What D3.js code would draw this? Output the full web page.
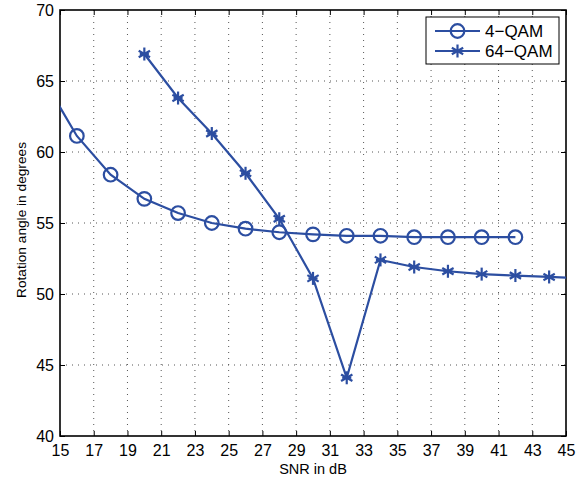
<!DOCTYPE html>
<html><head><meta charset="utf-8">
<script src="https://cdn.jsdelivr.net/npm/d3@7"></script>
<style>body{margin:0;background:#fff}</style>
</head><body>
<svg id="c" width="587" height="478"></svg>
<script>
const snr4 = [14,16,18,20,22,24,26,28,30,32,34,36,38,40,42];
const qam4 = [65.17,61.13,58.4,56.7,55.7,55.0,54.6,54.35,54.2,54.1,54.1,54.0,54.0,54.0,54.0];
const snr64 = [20,22,24,26,28,30,32,34,36,38,40,42,44,46];
const qam64 = [66.9,63.8,61.3,58.5,55.3,51.1,44.1,52.4,51.9,51.6,51.4,51.3,51.2,51.1];
const xTicks = [15,17,19,21,23,25,27,29,31,33,35,37,39,41,43,45];
const yTicks = [40,45,50,55,60,65,70];
const seriesNames = ["4\u2212QAM","64\u2212QAM"];

const svg = d3.select("#c");
const L=60,R=566,T=10,B=436;
const x = d3.scaleLinear().domain([15,45]).range([L,R]);
const y = d3.scaleLinear().domain([40,70]).range([B,T]);
const col = "#2c4ea1";
const font = "Liberation Sans, Arial, Helvetica, sans-serif";

// grid
const g = svg.append("g");
g.selectAll("line.gx").data(xTicks.slice(1,-1)).enter().append("line")
 .attr("x1",d=>x(d)).attr("x2",d=>x(d)).attr("y1",T).attr("y2",B)
 .attr("stroke","#555").attr("stroke-width",1).attr("stroke-dasharray","1,5");
g.selectAll("line.gy").data(yTicks.slice(1,-1)).enter().append("line")
 .attr("y1",d=>y(d)).attr("y2",d=>y(d)).attr("x1",L).attr("x2",R)
 .attr("stroke","#555").attr("stroke-width",1).attr("stroke-dasharray","1,5");

// axes
const ax = d3.axisBottom(x).tickValues(xTicks).tickSize(-5).tickPadding(9);
const axB = svg.append("g").attr("transform",`translate(0,${B})`).call(ax);
const axT = svg.append("g").attr("transform",`translate(0,${T})`).call(d3.axisTop(x).tickValues(xTicks).tickSize(-5).tickFormat(""));
const ay = d3.axisLeft(y).tickValues(yTicks).tickSize(-5).tickPadding(6);
const axL = svg.append("g").attr("transform",`translate(${L},0)`).call(ay);
const axR = svg.append("g").attr("transform",`translate(${R},0)`).call(d3.axisRight(y).tickValues(yTicks).tickSize(-5).tickFormat(""));
[axB,axT,axL,axR].forEach(a=>{
  a.select(".domain").remove();
  a.selectAll(".tick line").attr("stroke","#000").attr("stroke-width",1);
  a.selectAll("text").attr("font-family",font).attr("font-size",16).attr("fill","#000");
});
svg.append("rect").attr("x",L).attr("y",T).attr("width",R-L).attr("height",B-T)
 .attr("fill","none").attr("stroke","#000").attr("stroke-width",1.6);

// clip
svg.append("clipPath").attr("id","clip").append("rect").attr("x",L).attr("y",T).attr("width",R-L).attr("height",B-T);
const plot = svg.append("g").attr("clip-path","url(#clip)");
const line = d3.line().x(d=>x(d[0])).y(d=>y(d[1]));
const d4 = snr4.map((s,i)=>[s,qam4[i]]);
const d64 = snr64.map((s,i)=>[s,qam64[i]]);
plot.append("path").datum(d4).attr("d",line).attr("fill","none").attr("stroke",col).attr("stroke-width",2.2);
plot.append("path").datum(d64).attr("d",line).attr("fill","none").attr("stroke",col).attr("stroke-width",2.2);

function circle(sel,cx,cy){ sel.append("circle").attr("cx",cx).attr("cy",cy).attr("r",6.8).attr("fill","none").attr("stroke",col).attr("stroke-width",2.2); }
function star(sel,cx,cy){
  const r=6.5;
  const p = [[0,-r,0,r],[-r*0.87,-r*0.5,r*0.87,r*0.5],[-r*0.87,r*0.5,r*0.87,-r*0.5],[-r*0.7,0,r*0.7,0]];
  p.forEach(q=>sel.append("line").attr("x1",cx+q[0]).attr("y1",cy+q[1]).attr("x2",cx+q[2]).attr("y2",cy+q[3]).attr("stroke",col).attr("stroke-width",2.2));
}
d4.forEach(d=>circle(plot,x(d[0]),y(d[1])));
d64.forEach(d=>star(plot,x(d[0]),y(d[1])));

// labels
svg.append("text").attr("x",(L+R)/2).attr("y",474).attr("text-anchor","middle")
 .attr("font-family",font).attr("font-size",14.5).text("SNR in dB");
svg.append("text").attr("transform",`translate(26,${(T+B)/2 - 3}) rotate(-90)`).attr("text-anchor","middle")
 .attr("font-family",font).attr("font-size",13.7).text("Rotation angle in degrees");

// legend
const lg = svg.append("g");
lg.append("rect").attr("x",426).attr("y",17).attr("width",133).attr("height",47).attr("fill","#fff").attr("stroke","#000").attr("stroke-width",1);
[0,1].forEach(i=>{
  const yy = 31 + i*20;
  lg.append("line").attr("x1",435).attr("x2",480).attr("y1",yy).attr("y2",yy).attr("stroke",col).attr("stroke-width",2.2);
  if(i===0) circle(lg,457.5,yy); else star(lg,457.5,yy);
  lg.append("text").attr("x",485).attr("y",yy+6).attr("font-family",font).attr("font-size",17).text(seriesNames[i]);
});
</script>
</body></html>
